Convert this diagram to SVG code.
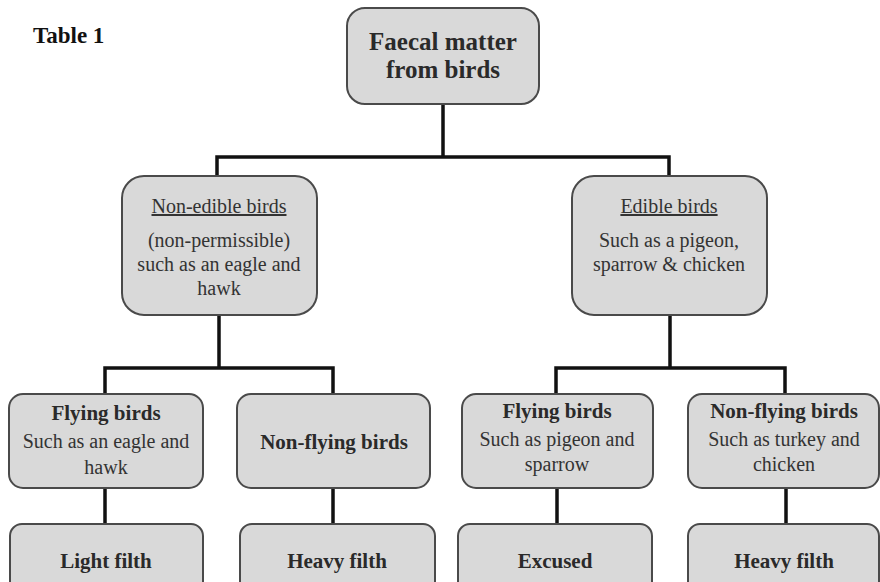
<svg xmlns="http://www.w3.org/2000/svg" width="880" height="582" viewBox="0 0 880 582">
<style>
.box{fill:#d9d9d9;stroke:#4a4a4a;stroke-width:2}
.t{fill:#2a2a2a;text-anchor:middle}
.h{font-size:21px;font-weight:bold}
.b{font-size:20px;fill:#333}
.u{text-decoration:underline}
.c{fill:none;stroke:#111;stroke-width:3.5}
</style>
<rect width="880" height="582" fill="#fff"/>
<g font-family="'Liberation Serif', Tinos, 'Times New Roman', 'DejaVu Serif', serif">
<text x="33" y="43" font-size="23" font-weight="bold" fill="#111">Table 1</text>
<g id="connectors">
<path class="c" d="M443 104V157M217 178V157H669V178"/>
<path class="c" d="M219 315V368M105 394V368H333V394"/>
<path class="c" d="M670 315V368M556 394V368H785V394"/>
<path class="c" d="M105 488V524M333 488V524M557 488V524M786 488V524"/>
</g>
<g id="root">
<rect class="box" x="347" y="8" width="192" height="96" rx="18"/>
<text class="t" x="443" y="50" font-size="25" font-weight="bold">Faecal matter</text>
<text class="t" x="443" y="78" font-size="25" font-weight="bold">from birds</text>
</g>
<g id="nonedible">
<rect class="box" x="122" y="176" width="195" height="139" rx="22"/>
<text class="t b u" x="219" y="213" font-size="21">Non-edible birds</text>
<text class="t b" x="219" y="247">(non-permissible)</text>
<text class="t b" x="219" y="271">such as an eagle and</text>
<text class="t b" x="219" y="295">hawk</text>
</g>
<g id="edible">
<rect class="box" x="572" y="176" width="195" height="139" rx="22"/>
<text class="t b u" x="669" y="213" font-size="21">Edible birds</text>
<text class="t b" x="669" y="247">Such as a pigeon,</text>
<text class="t b" x="669" y="271">sparrow &amp; chicken</text>
</g>
<g id="flying1">
<rect class="box" x="9" y="394" width="194" height="94" rx="14"/>
<text class="t h" x="106" y="420">Flying birds</text>
<text class="t b" x="106" y="448">Such as an eagle and</text>
<text class="t b" x="106" y="474">hawk</text>
</g>
<g id="nonflying1">
<rect class="box" x="237" y="394" width="193" height="94" rx="14"/>
<text class="t h" x="334" y="449">Non-flying birds</text>
</g>
<g id="flying2">
<rect class="box" x="462" y="394" width="191" height="94" rx="14"/>
<text class="t h" x="557" y="418">Flying birds</text>
<text class="t b" x="557" y="446">Such as pigeon and</text>
<text class="t b" x="557" y="471">sparrow</text>
</g>
<g id="nonflying2">
<rect class="box" x="688" y="394" width="191" height="94" rx="14"/>
<text class="t h" x="784" y="418">Non-flying birds</text>
<text class="t b" x="784" y="446">Such as turkey and</text>
<text class="t b" x="784" y="471">chicken</text>
</g>
<g id="light">
<rect class="box" x="10" y="524" width="193" height="70" rx="12"/>
<text class="t h" x="106" y="568">Light filth</text>
</g>
<g id="heavy1">
<rect class="box" x="240" y="524" width="195" height="70" rx="12"/>
<text class="t h" x="337" y="568">Heavy filth</text>
</g>
<g id="excused">
<rect class="box" x="458" y="524" width="194" height="70" rx="12"/>
<text class="t h" x="555" y="568">Excused</text>
</g>
<g id="heavy2">
<rect class="box" x="688" y="524" width="191" height="70" rx="12"/>
<text class="t h" x="784" y="568">Heavy filth</text>
</g>
</g>
</svg>
